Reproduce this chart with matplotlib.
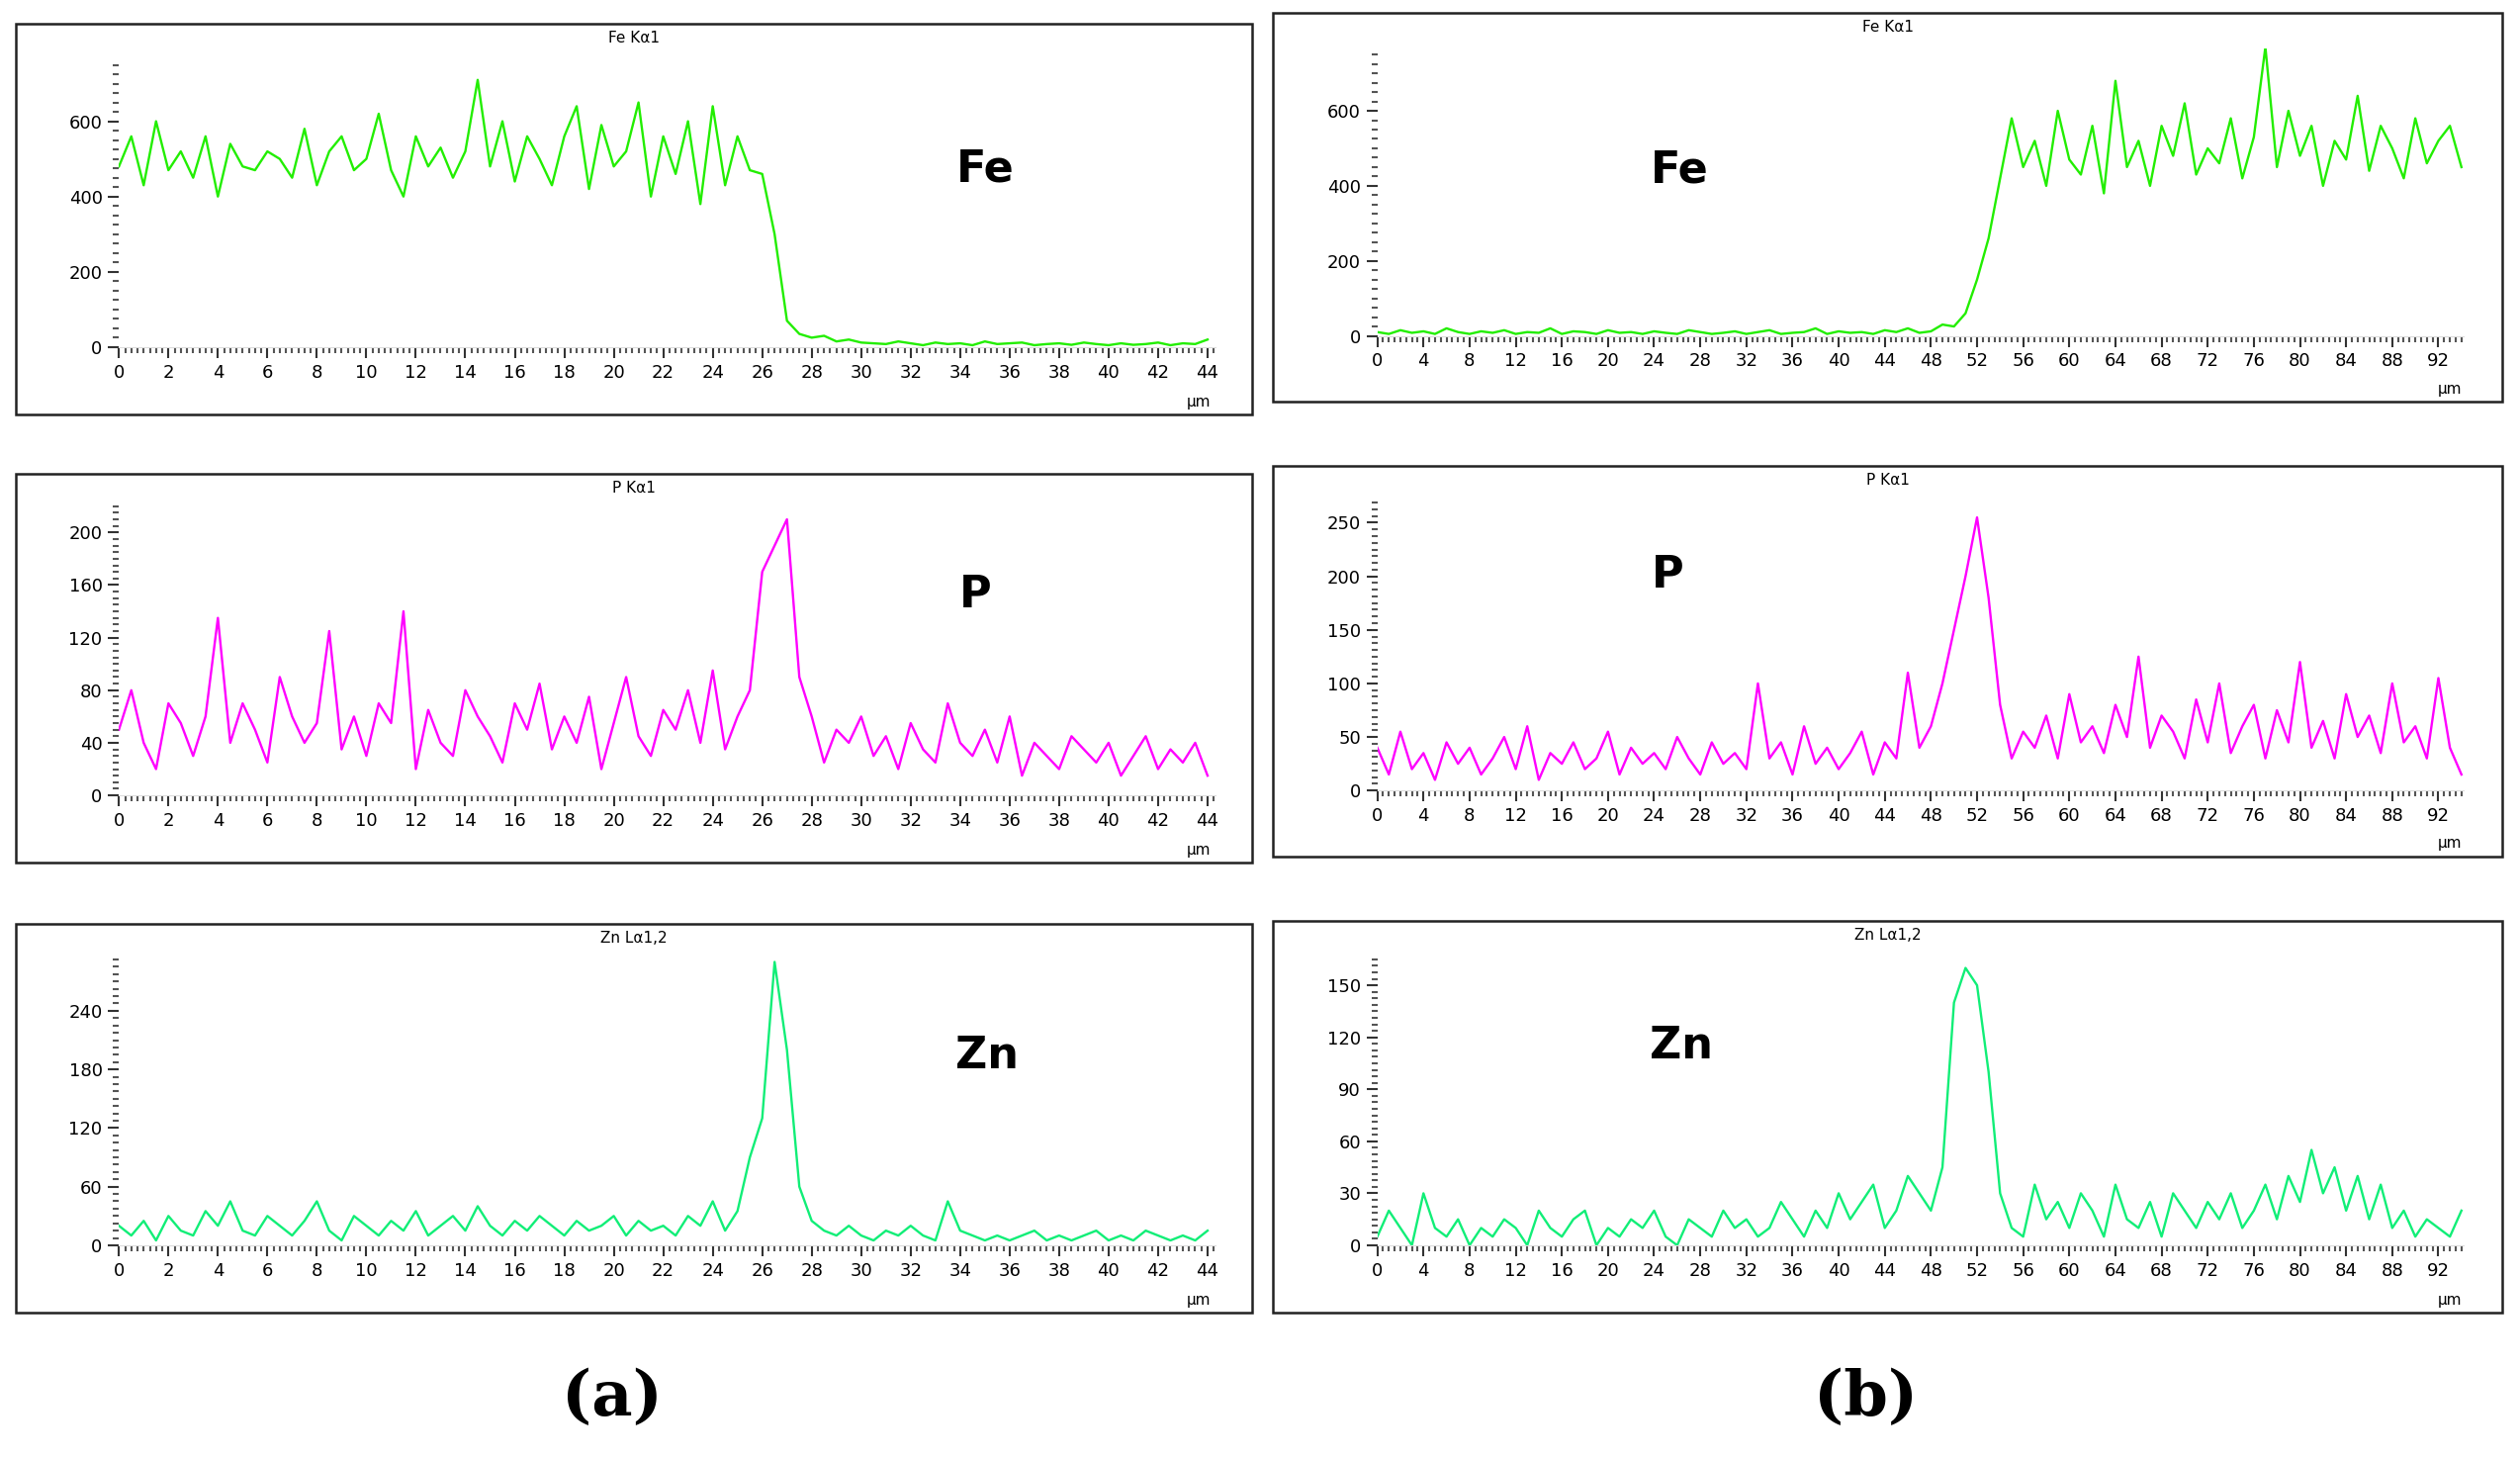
import numpy as np
import matplotlib
matplotlib.use("Agg")
import matplotlib.pyplot as plt
from matplotlib.patches import Rectangle
from matplotlib.ticker import MultipleLocator

# ── line-scan counts ───────────────────────────
# (a) left column, step 0.5 um
L_STEP = 0.5
L_FE = [480, 560, 430, 600, 470, 520, 450, 560, 400, 540, 480, 470, 520, 500, 450, 580, 430, 520, 560, 470,
        500, 620, 470, 400, 560, 480, 530, 450, 520, 710, 480, 600, 440, 560, 500, 430, 560, 640, 420, 590,
        480, 520, 650, 400, 560, 460, 600, 380, 640, 430, 560, 470,
        460, 300, 70, 35, 25, 30, 15, 20, 12, 10, 8, 15, 10, 5, 12, 8, 10, 5, 15, 8, 10, 12, 5, 8, 10, 6,
        12, 8, 5, 10, 6, 8, 12, 5, 10, 8, 20]
L_P = [50, 80, 40, 20, 70, 55, 30, 60, 135, 40, 70, 50, 25, 90, 60, 40, 55, 125, 35, 60, 30, 70, 55, 140,
       20, 65, 40, 30, 80, 60, 45, 25, 70, 50, 85, 35, 60, 40, 75, 20, 55, 90, 45, 30, 65, 50, 80, 40, 95,
       35, 60, 80,
       170, 190, 210, 90, 60, 25, 50, 40, 60, 30, 45, 20, 55, 35, 25, 70, 40, 30, 50, 25, 60, 15, 40, 30,
       20, 45, 35, 25, 40, 15, 30, 45, 20, 35, 25, 40, 15]
L_ZN = [20, 10, 25, 5, 30, 15, 10, 35, 20, 45, 15, 10, 30, 20, 10, 25, 45, 15, 5, 30, 20, 10, 25, 15, 35,
        10, 20, 30, 15, 40, 20, 10, 25, 15, 30, 20, 10, 25, 15, 20, 30, 10, 25, 15, 20, 10, 30, 20, 45, 15,
        35, 90,
        130, 290, 200, 60, 25, 15, 10, 20, 10, 5, 15, 10, 20, 10, 5, 45, 15, 10, 5, 10, 5, 10, 15, 5, 10, 5,
        10, 15, 5, 10, 5, 15, 10, 5, 10, 5, 15]

# (b) right column, step 1 um
R_STEP = 1.0
R_FE = [10, 5, 15, 8, 12, 5, 20, 10, 5, 12, 8, 15, 5, 10, 8, 20, 5, 12, 10, 5, 15, 8, 10, 5, 12, 8, 5, 15,
        10, 5, 8, 12, 5, 10, 15, 5, 8, 10, 20, 5, 12, 8, 10, 5, 15, 10, 20, 8, 12, 30, 25,
        60, 150, 260, 420, 580, 450, 520, 400, 600, 470, 430, 560, 380, 680, 450, 520, 400, 560, 480, 620,
        430, 500, 460, 580, 420, 530, 770, 450, 600, 480, 560, 400, 520, 470, 640, 440, 560, 500, 420, 580,
        460, 520, 560, 450]
R_P = [40, 15, 55, 20, 35, 10, 45, 25, 40, 15, 30, 50, 20, 60, 10, 35, 25, 45, 20, 30, 55, 15, 40, 25, 35,
       20, 50, 30, 15, 45, 25, 35, 20, 100, 30, 45, 15, 60, 25, 40, 20, 35, 55, 15, 45, 30, 110, 40, 60, 100,
       150, 200, 255, 180, 80, 30, 55, 40, 70, 30, 90, 45, 60, 35, 80, 50, 125, 40, 70, 55, 30, 85, 45, 100,
       35, 60, 80, 30, 75, 45, 120, 40, 65, 30, 90, 50, 70, 35, 100, 45, 60, 30, 105, 40, 15]
R_ZN = [5, 20, 10, 0, 30, 10, 5, 15, 0, 10, 5, 15, 10, 0, 20, 10, 5, 15, 20, 0, 10, 5, 15, 10, 20, 5, 0, 15,
        10, 5, 20, 10, 15, 5, 10, 25, 15, 5, 20, 10, 30, 15, 25, 35, 10, 20, 40, 30, 20, 45,
        140, 160, 150, 100, 30, 10, 5, 35, 15, 25, 10, 30, 20, 5, 35, 15, 10, 25, 5, 30, 20, 10, 25, 15, 30,
        10, 20, 35, 15, 40, 25, 55, 30, 45, 20, 40, 15, 35, 10, 20, 5, 15, 10, 5, 20]

FE_C, P_C, ZN_C = "#22ee00", "#ff00ff", "#11ee77"

W, H = 1568.0, 908.0  # layout measured in this coordinate frame


def rect(x0, x1, ytop, ybot):
    return [x0 / W, 1 - ybot / H, (x1 - x0) / W, (ybot - ytop) / H]


fig = plt.figure(figsize=(25.48, 14.75), dpi=100)

# (data, step, xlim, xmajor, ytop, ymajor, color, title, label, axes rect, box, label pos)
panels = [
    (L_FE, L_STEP, 44.3, 2, 760, 200, FE_C, "Fe Kα1", "Fe", rect(74, 756, 38, 216), (10, 779, 15, 258), (613, 105)),
    (L_P, L_STEP, 44.3, 2, 220, 40, P_C, "P Kα1", "P", rect(74, 756, 315, 495), (10, 779, 295, 537), (607, 370)),
    (L_ZN, L_STEP, 44.3, 2, 296, 60, ZN_C, "Zn Lα1,2", "Zn", rect(74, 756, 595, 775), (10, 779, 575, 817), (614, 657)),
    (R_FE, R_STEP, 94.2, 4, 767, 200, FE_C, "Fe Kα1", "Fe", rect(857, 1533, 30, 209), (792, 1557, 8, 250), (1045, 106)),
    (R_P, R_STEP, 94.2, 4, 270, 50, P_C, "P Kα1", "P", rect(857, 1533, 312, 492), (792, 1557, 290, 533), (1038, 358)),
    (R_ZN, R_STEP, 94.2, 4, 165, 30, ZN_C, "Zn Lα1,2", "Zn", rect(857, 1533, 597, 775), (792, 1557, 573, 817), (1046, 651)),
]

for vals, step, xmax, xmaj, ytop, ymaj, col, title, lab, r, box, lpos in panels:
    ax = fig.add_axes(r)
    x = np.arange(len(vals)) * step
    ax.plot(x, vals, color=col, lw=1.7)
    ax.set_xlim(0, xmax)
    ax.set_ylim(0, ytop)
    ax.xaxis.set_major_locator(MultipleLocator(xmaj))
    ax.xaxis.set_minor_locator(MultipleLocator(xmaj / 8))
    ax.yaxis.set_major_locator(MultipleLocator(ymaj))
    ax.yaxis.set_minor_locator(MultipleLocator(ymaj / 8))
    for s in ("top", "right", "left"):
        ax.spines[s].set_visible(False)
    ax.spines["bottom"].set_color("#dddddd")
    ax.tick_params(which="major", length=8, width=1.5, color="#333333", labelsize=13, pad=4)
    ax.tick_params(which="minor", length=4, width=1.5, color="#555555")
    ax.patch.set_alpha(0)

    bx0, bx1, by0, by1 = box
    fig.add_artist(Rectangle((bx0 / W, 1 - by1 / H), (bx1 - bx0) / W, (by1 - by0) / H,
                             transform=fig.transFigure, fill=False, ec="#222222", lw=1.8))
    cx = (bx0 + bx1) / 2
    fig.text(cx / W, 1 - (by0 + 9) / H, title, ha="center", va="center", fontsize=11)
    fig.text((bx1 - 33) / W, 1 - (by1 - 8) / H, "µm", ha="center", va="center", fontsize=11)
    fig.text(lpos[0] / W, 1 - lpos[1] / H, lab, ha="center", va="center",
             fontsize=32, fontweight="bold")

fig.text(381 / W, 1 - 870 / H, "(a)", ha="center", va="center", fontsize=46,
         family="DejaVu Serif", fontweight="bold")
fig.text(1161 / W, 1 - 870 / H, "(b)", ha="center", va="center", fontsize=46,
         family="DejaVu Serif", fontweight="bold")

fig.savefig("out.png", dpi=100)
